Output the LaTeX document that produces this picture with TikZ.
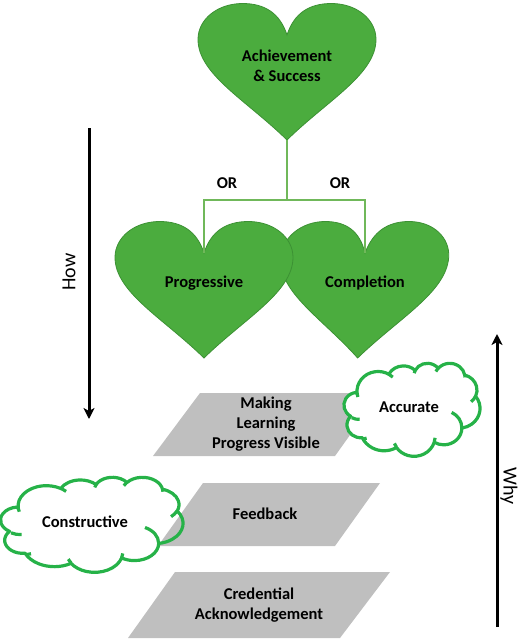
\documentclass[tikz,border=0pt]{standalone}
\usepackage{fontspec}
\setmainfont{Carlito}
\usetikzlibrary{arrows.meta}
\definecolor{heartfill}{RGB}{75,172,62}
\definecolor{heartline}{RGB}{60,145,52}
\definecolor{linkgreen}{RGB}{112,184,90}
\definecolor{cloudgreen}{RGB}{38,178,72}
\definecolor{paragray}{RGB}{191,191,191}
% elliptic arc in the manner of DrawingML arcTo (visual angles)
\newcommand\pptarccalc[4]{%
  \pgfmathparse{atan2(#1*sin(#3),#2*cos(#3))}\xdef\pptA{\pgfmathresult}%
  \pgfmathparse{atan2(#1*sin(#3+#4),#2*cos(#3+#4))}\xdef\pptB{\pgfmathresult}%
  \pgfmathparse{\pptB-\pptA}\xdef\pptD{\pgfmathresult}%
  \pgfmathparse{\pptD+360*and(#4>0,\pptD<0)-360*and(#4<0,\pptD>0)}\xdef\pptD{\pgfmathresult}%
}
\newcommand\pptarc[4]{\pgfextra{\pptarccalc{#1}{#2}{#3}{#4}} arc[x radius=#1, y radius=#2, start angle=\pptA, delta angle=\pptD]}
\newcommand\cloudoutline{(3.9,14.37)
  \pptarc{6.753}{9.19}{-190.4875}{123.78053}
  \pptarc{5.333}{7.267}{-144.10238}{89.94523}
  \pptarc{4.365}{5.945}{-145.80792}{99.72302}
  \pptarc{4.857}{6.595}{-130.98607}{117.24173}
  \pptarc{5.333}{7.273}{-78.70888}{109.02692}
  \pptarc{6.775}{9.22}{-46.26725}{130.269}
  \pptarc{5.785}{7.867}{0.62502}{114.03333}
  \pptarc{6.752}{9.215}{22.4516}{115.17255}
  \pptarc{7.72}{10.543}{66.24263}{81.37008}
  \pptarc{4.36}{5.945}{-274.94208}{146.73557}
  \pptarc{4.345}{5.945}{-246.8285}{152.51885} -- cycle}
\newcommand\cloudcurls{(4.693,26.177) \pptarc{4.345}{5.945}{86.742}{26.4295}
  (6.928,34.899) \pptarc{4.36}{5.945}{73.61047}{11.44747}
  (16.478,39.09) \pptarc{6.752}{9.215}{137.62415}{14.0811}
  (28.827,34.751) \pptarc{6.752}{9.215}{6.45327}{15.99835}
  (34.129,22.954) \pptarc{5.785}{7.867}{-70.29235}{70.91737}
  (41.798,15.354) \pptarc{5.333}{7.273}{30.31803}{27.7515}
  (38.324,5.426) \pptarc{4.857}{6.595}{-13.74433}{14.8589}
  (29.078,3.952) \pptarc{4.857}{6.595}{-149.18145}{18.19537}
  (22.141,4.72) \pptarc{4.365}{5.945}{-163.49427}{17.68635}
  (14.0,5.192) \pptarc{6.753}{9.19}{-66.70695}{12.31935}
  (4.127,15.789) \pptarc{6.753}{9.19}{157.65435}{11.85817}}
\tikzset{
  heartstyle/.style={fill=heartfill,draw=heartline,line width=0.8pt},
  pics/heart/.style={code={
    \path[heartstyle] (0,0) .. controls (0.08,-0.25) and (0.25,-0.36) .. (0.5,-0.36)
      .. controls (0.78,-0.36) and (1,-0.18) .. (1,0.05)
      .. controls (1,0.45) and (0.45,0.75) .. (0,1.2)
      .. controls (-0.45,0.75) and (-1,0.45) .. (-1,0.05)
      .. controls (-1,-0.18) and (-0.78,-0.36) .. (-0.5,-0.36)
      .. controls (-0.25,-0.36) and (-0.08,-0.25) .. (0,0) -- cycle;
  }},
  btext/.style={font=\fontsize{16.5}{20}\selectfont\bfseries,align=center,inner sep=0pt},
  axtext/.style={font=\fontsize{20}{22}\selectfont,inner sep=0pt},
  para/.style={fill=paragray},
  cloudfill/.style={fill=white},
  cloudline/.style={draw=cloudgreen,line width=3.2pt,line join=round},
  axarrow/.style={line width=3pt,-{Stealth[length=11pt,width=11pt,inset=3pt]}},
  link/.style={draw=linkgreen,line width=1.2pt}
}
\begin{document}
\begin{tikzpicture}[x=1pt,y=-1pt]
\useasboundingbox (0,0) rectangle (526,641);
% hearts
\pic[xscale=89,yscale=87.5] at (287,35) {heart};
\pic[xslant=0.07,xscale=84,yscale=87.5] at (365,253) {heart};
\pic[xscale=89,yscale=87.5] at (204,253) {heart};
\node[btext] (ach) at (287,66) {Achievement\\\& Success};
\node[btext] (prog) at (204,283) {Progressive};
\node[btext] (comp) at (365,283) {Completion};
\coordinate (achb) at (287,140);
\coordinate (progd) at (204,253);
\coordinate (compd) at (365,253);
\coordinate (fork) at (287,200);
\draw[link] (achb) -- (fork);
\draw[link] (fork) -| (progd);
\draw[link] (fork) -| (compd);
\node[btext] (or1) at (227,183) {OR};
\node[btext] (or2) at (340,183) {OR};
% axes
\coordinate (howtop) at (89,128);
\coordinate (howbot) at (89,419);
\draw[axarrow] (howtop) -- (howbot);
\node[axtext,rotate=90] (how) at (69,272) {How};
\coordinate (whybot) at (497,627);
\coordinate (whytop) at (497,334);
\draw[axarrow] (whybot) -- (whytop);
\node[axtext,rotate=-90] (why) at (509,486) {Why};
% first step with the Accurate cloud on top
\fill[para] (200,393) -- (380,393) -- (335,456) -- (153,456) -- cycle;
\node[btext] (mlpv) at (266,424) {Making\\Learning\\Progress Visible};
\begin{scope}[shift={(345,363)},xscale=135/43.2,yscale=93/43.2]
  \path[cloudfill] \cloudoutline;
  \path[cloudline] \cloudoutline;
  \path[cloudline] \cloudcurls;
\end{scope}
\node[btext] (acct) at (409,407) {Accurate};
% second step over the Constructive cloud's fill
\begin{scope}[shift={(2,477)},xscale=181/43.2,yscale=95/43.2]
  \path[cloudfill] \cloudoutline;
\end{scope}
\fill[para] (203,483) -- (380,483) -- (335,546) -- (158,546) -- cycle;
\node[btext] (fb) at (265,514) {Feedback};
\begin{scope}[shift={(2,477)},xscale=181/43.2,yscale=95/43.2]
  \path[cloudline] \cloudoutline;
  \path[cloudline] \cloudcurls;
\end{scope}
\node[btext] (cont) at (85,522) {Constructive};
% third step
\fill[para] (175,572) -- (390,572) -- (340,638) -- (128,638) -- cycle;
\node[btext] (ca) at (259,605) {Credential\\Acknowledgement};
\end{tikzpicture}
\end{document}
